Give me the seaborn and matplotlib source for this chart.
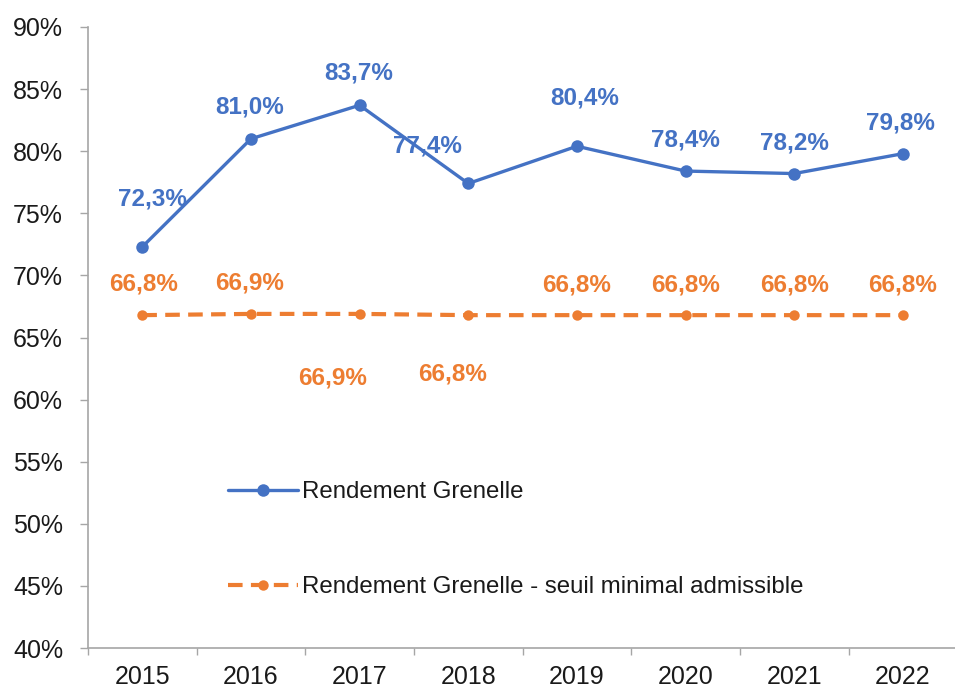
import numpy as np
import pandas as pd
import matplotlib
matplotlib.use("Agg")
import matplotlib.pyplot as plt
import seaborn as sns
from matplotlib.ticker import FixedLocator, FuncFormatter

# Data
years = ["2015", "2016", "2017", "2018", "2019", "2020", "2021", "2022"]
rendement = [72.3, 81.0, 83.7, 77.4, 80.4, 78.4, 78.2, 79.8]
seuil = [66.8, 66.9, 66.9, 66.8, 66.8, 66.8, 66.8, 66.8]
label_rendement = "Rendement Grenelle"
label_seuil = "Rendement Grenelle - seuil minimal admissible"

# label offsets (pixels) for the data labels
offs_rendement = [(10, 48), (-1, 32), (-1, 32), (-41, 37), (8, 48), (0, 31), (0, 31), (-2, 31)]
offs_seuil = [(1, 31), (-1, 31), (-27, -64), (-16, -59), (0, 30), (0, 30), (0, 30), (0, 30)]

blue = "#4472C4"
orange = "#ED7D31"

sns.set_style("white")
plt.rcParams["font.family"] = ["Liberation Sans", "DejaVu Sans"]

df = pd.DataFrame({
    "pos": np.arange(len(years)),
    "year": years,
    "rendement": rendement,
    "seuil": seuil,
})

fig = plt.figure(figsize=(9.55, 6.9), dpi=100)
ax = fig.add_axes([88 / 955, 1 - 648 / 690, 867 / 955, 621 / 690])

sns.lineplot(data=df, x="pos", y="rendement", ax=ax, color=blue, linewidth=2.4,
             marker="o", markersize=9, markeredgewidth=0, label=label_rendement)
sns.lineplot(data=df, x="pos", y="seuil", ax=ax, color=orange, linewidth=3,
             marker="o", markersize=7.5, markeredgewidth=0, label=label_seuil)
ax.lines[1].set_dashes([3.5, 2])

for i, v in enumerate(rendement):
    ax.annotate(f"{v:.1f}%".replace(".", ","), (i, v), xytext=offs_rendement[i],
                textcoords="offset pixels", ha="center", va="center",
                color=blue, fontsize=17.5, fontweight="bold")
for i, v in enumerate(seuil):
    ax.annotate(f"{v:.1f}%".replace(".", ","), (i, v), xytext=offs_seuil[i],
                textcoords="offset pixels", ha="center", va="center",
                color=orange, fontsize=17.5, fontweight="bold")

ax.set_ylim(40, 90)
ax.set_yticks(np.arange(40, 91, 5))
ax.yaxis.set_major_formatter(FuncFormatter(lambda v, p: f"{int(v)}%"))
ax.set_xlim(-0.5, 7.48)
ax.set_xticks(df["pos"])
ax.set_xticklabels(years)
ax.xaxis.set_minor_locator(FixedLocator(np.arange(-0.5, 8, 1)))
ax.set_xlabel("")
ax.set_ylabel("")

ax.tick_params(axis="y", which="major", length=6, width=1, color="#A6A6A6",
               pad=12, labelsize=18, labelcolor="#1a1a1a", left=True)
ax.tick_params(axis="x", which="major", length=0, pad=12, labelsize=18,
               labelcolor="#1a1a1a")
ax.tick_params(axis="x", which="minor", length=5, width=1, color="#A6A6A6",
               bottom=True)

sns.despine(ax=ax, top=True, right=True)
for s in ["left", "bottom"]:
    ax.spines[s].set_color("#A6A6A6")
    ax.spines[s].set_linewidth(1.2)

leg = ax.legend(loc="upper left", bbox_to_anchor=(0.161, 0.269), frameon=False,
                fontsize=17.3, handlelength=2.95, handletextpad=0.15,
                labelspacing=3.05, borderpad=0, borderaxespad=0)
for t in leg.get_texts():
    t.set_color("#1a1a1a")

fig.savefig("out.png", dpi=100)
